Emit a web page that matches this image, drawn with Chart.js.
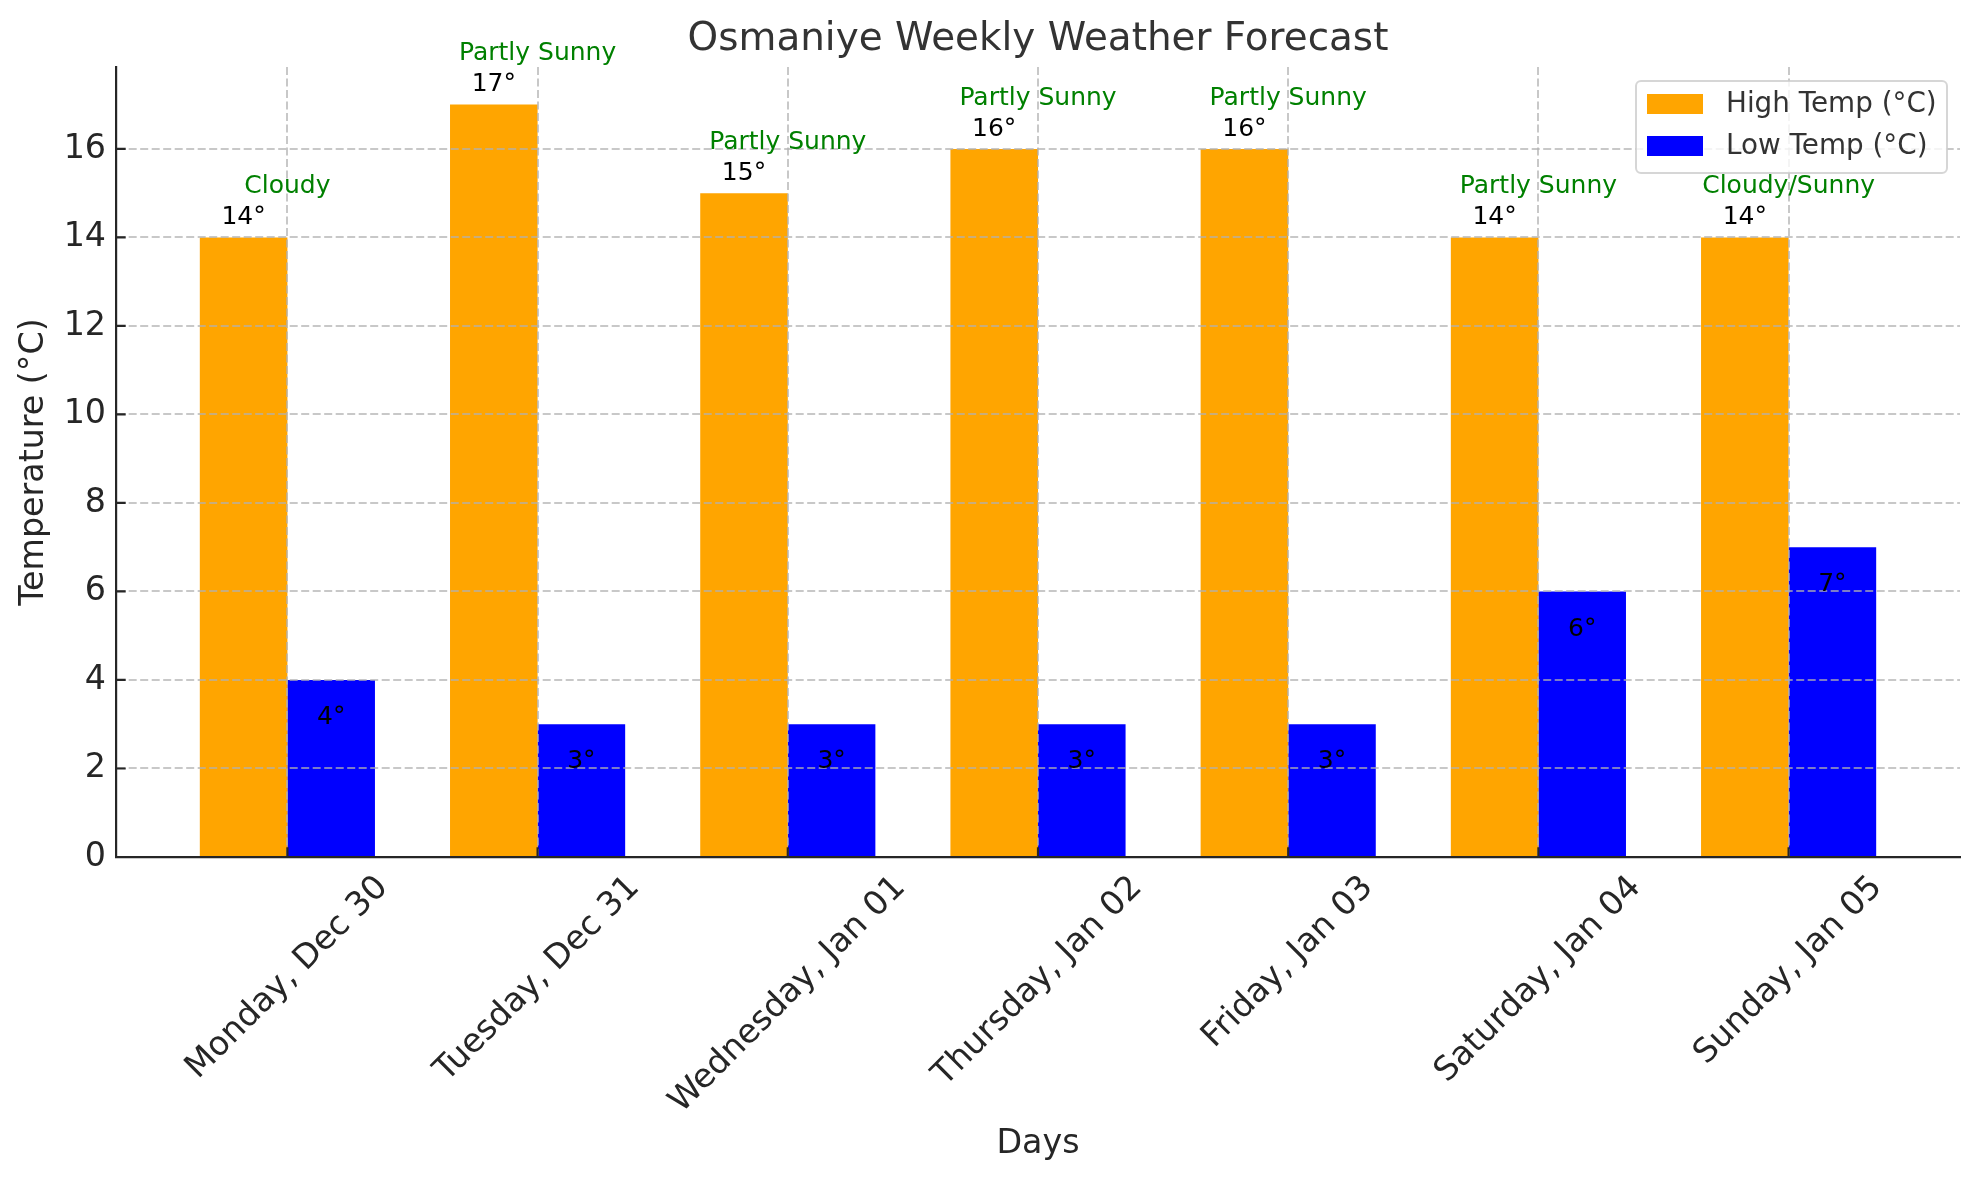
<!DOCTYPE html>
<html>
<head>
<meta charset="utf-8">
<script src="https://cdn.jsdelivr.net/npm/chart.js@4"></script>
<style>
  html, body { margin: 0; padding: 0; background: #fff; }
  #wrap { width: 1980px; height: 1180px; }
</style>
</head>
<body>
<div id="wrap"><canvas id="weatherChart" width="1980" height="1180"></canvas></div>
<script>
// data
const days = ['Monday, Dec 30', 'Tuesday, Dec 31', 'Wednesday, Jan 01', 'Thursday, Jan 02',
  'Friday, Jan 03', 'Saturday, Jan 04', 'Sunday, Jan 05'];
const highTemps = [14, 17, 15, 16, 16, 14, 14];
const lowTemps = [4, 3, 3, 3, 3, 6, 7];
const conditions = ['Cloudy', 'Partly Sunny', 'Partly Sunny', 'Partly Sunny', 'Partly Sunny',
  'Partly Sunny', 'Cloudy/Sunny'];
const yTicks = [0, 2, 4, 6, 8, 10, 12, 14, 16];

const seriesNames = ['High Temp (°C)', 'Low Temp (°C)'];
const seriesColors = ['#FFA500', '#0000FF'];

const FONT = "'DejaVu Sans', sans-serif";
const gridColor = 'rgba(176,176,176,0.7)';
const axisColor = '#262626';
const tickFont = 33.3;

// extra drawing: inward ticks, labels on bars, rotated day labels, titles, legend
const overlay = {
  id: 'overlay',
  afterDraw(chart) {
    const ctx = chart.ctx;
    const a = chart.chartArea;
    const x = chart.scales.x;
    const y = chart.scales.y;
    ctx.save();

    // inward tick marks
    ctx.strokeStyle = axisColor;
    ctx.lineWidth = 2.2;
    ctx.beginPath();
    yTicks.forEach(v => {
      const py = y.getPixelForValue(v);
      ctx.moveTo(a.left, py);
      ctx.lineTo(a.left + 9.7, py);
    });
    days.forEach((d, i) => {
      const px = x.getPixelForValue(i);
      ctx.moveTo(px, a.bottom);
      ctx.lineTo(px, a.bottom - 9.7);
    });
    ctx.stroke();

    // value and condition labels
    ctx.font = '25px ' + FONT;
    ctx.textAlign = 'center';
    ctx.textBaseline = 'alphabetic';
    days.forEach((d, i) => {
      ctx.fillStyle = '#000';
      ctx.fillText(highTemps[i] + '°', x.getPixelForValue(i - 0.175), y.getPixelForValue(highTemps[i] + 0.3));
      ctx.fillText(lowTemps[i] + '°', x.getPixelForValue(i + 0.175), y.getPixelForValue(lowTemps[i] - 1));
      ctx.fillStyle = '#008000';
      ctx.fillText(conditions[i], x.getPixelForValue(i), y.getPixelForValue(highTemps[i] + 1));
    });

    // day labels, rotated 45 deg, centred under the tick
    ctx.font = tickFont + 'px ' + FONT;
    ctx.fillStyle = axisColor;
    ctx.textBaseline = 'middle';
    const h = tickFont * 0.97;
    days.forEach((d, i) => {
      const L = ctx.measureText(d).width;
      const cy = a.bottom + 14 + 0.3536 * (L + h);
      ctx.save();
      ctx.translate(x.getPixelForValue(i), cy);
      ctx.rotate(-Math.PI / 4);
      ctx.fillText(d, 0, 0);
      ctx.restore();
    });

    // titles
    const cx = (a.left + a.right) / 2;
    ctx.textBaseline = 'alphabetic';
    ctx.fillStyle = '#333';
    ctx.font = '38.9px ' + FONT;
    ctx.fillText('Osmaniye Weekly Weather Forecast', cx, 50);
    ctx.fillStyle = axisColor;
    ctx.font = '33.3px ' + FONT;
    ctx.fillText('Days', cx, 1153);
    ctx.save();
    ctx.translate(43, (a.top + a.bottom) / 2);
    ctx.rotate(-Math.PI / 2);
    ctx.fillText('Temperature (°C)', 0, 0);
    ctx.restore();

    // legend
    ctx.beginPath();
    ctx.roundRect(1636, 81, 311, 92, 5);
    ctx.fillStyle = 'rgba(255,255,255,0.8)';
    ctx.fill();
    ctx.strokeStyle = 'rgba(204,204,204,0.8)';
    ctx.lineWidth = 2;
    ctx.stroke();
    ctx.font = '27.8px ' + FONT;
    ctx.textAlign = 'left';
    ctx.textBaseline = 'middle';
    seriesNames.forEach((n, k) => {
      const ly = 104 + k * 42;
      ctx.fillStyle = seriesColors[k];
      ctx.fillRect(1647, ly - 10, 56, 20);
      ctx.fillStyle = '#333';
      ctx.fillText(n, 1726, ly + 1);
    });

    ctx.restore();
  }
};

const chartData = {
  datasets: [
    {
      label: seriesNames[0],
      data: highTemps.map((v, i) => ({ x: i, y: v })),
      backgroundColor: seriesColors[0],
      borderWidth: 0
    },
    {
      label: seriesNames[1],
      data: lowTemps.map((v, i) => ({ x: i, y: v })),
      backgroundColor: seriesColors[1],
      borderWidth: 0
    }
  ]
};

const config = {
  type: 'bar',
  data: chartData,
  options: {
    responsive: false,
    devicePixelRatio: 1,
    animation: false,
    events: [],
    layout: { padding: { left: 0, top: 67, right: 20, bottom: 323 } },
    datasets: {
      bar: { categoryPercentage: 0.7, barPercentage: 1.0 }
    },
    plugins: {
      legend: { display: false },
      title: { display: false },
      tooltip: { enabled: false }
    },
    scales: {
      x: {
        type: 'linear',
        offset: false,
        min: -0.685,
        max: 6.685,
        afterBuildTicks: s => { s.ticks = days.map((d, i) => ({ value: i })); },
        afterFit: s => { s.height = 0; },
        ticks: { display: false },
        grid: { offset: false, color: gridColor, lineWidth: 2, drawTicks: false, z: 1 },
        border: { display: true, color: axisColor, width: 2.2, dash: [8, 3.5], z: 2 }
      },
      y: {
        min: 0,
        max: 17.85,
        afterBuildTicks: s => { s.ticks = yTicks.map(v => ({ value: v })); },
        afterFit: s => { s.width = 116; },
        ticks: {
          color: axisColor,
          padding: 10,
          font: { family: FONT, size: tickFont }
        },
        grid: { color: gridColor, lineWidth: 2, drawTicks: false, z: 1 },
        border: { display: true, color: axisColor, width: 2.2, dash: [8, 3.5], z: 2 }
      }
    }
  },
  plugins: [overlay]
};

new Chart(document.getElementById('weatherChart').getContext('2d'), config);
</script>
</body>
</html>
